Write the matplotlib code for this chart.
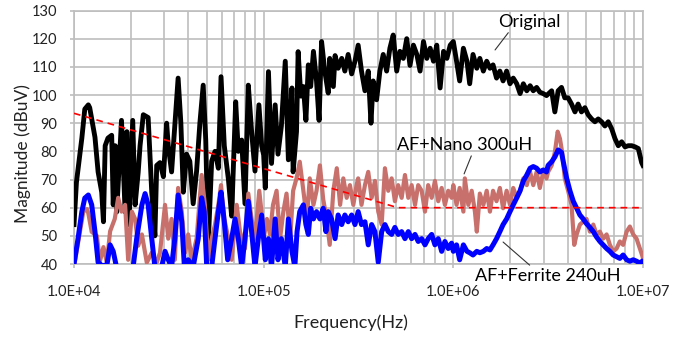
import matplotlib
matplotlib.use("Agg")
import matplotlib.pyplot as plt
from matplotlib.ticker import FixedLocator, LogLocator, NullFormatter

plt.rcParams["font.family"] = ["Lato", "DejaVu Sans"]

# ---- data (frequency in Hz, level in dBuV) ----
orig_f = [1.00e4, 1.03e4, 1.10e4, 1.14e4, 1.19e4, 1.21e4, 1.29e4, 1.34e4, 1.40e4, 1.43e4,
          1.46e4, 1.51e4, 1.58e4, 1.61e4, 1.65e4, 1.68e4, 1.78e4, 1.86e4, 1.90e4, 1.95e4,
          2.04e4, 2.10e4, 2.18e4, 2.23e4, 2.32e4, 2.46e4, 2.57e4, 2.67e4, 2.73e4, 2.84e4,
          2.96e4, 3.08e4, 3.14e4, 3.27e4, 3.40e4, 3.54e4, 3.66e4, 3.77e4, 3.92e4, 4.08e4,
          4.25e4, 4.43e4, 4.61e4, 4.80e4, 4.95e4, 5.10e4, 5.32e4, 5.54e4, 5.77e4, 5.96e4,
          6.20e4, 6.52e4, 6.78e4, 7.12e4, 7.35e4, 7.66e4, 7.97e4, 8.30e4, 8.64e4, 9.00e4,
          9.44e4, 9.76e4,
          1.00e5, 1.02e5, 1.06e5, 1.10e5, 1.15e5, 1.19e5, 1.24e5, 1.30e5, 1.35e5, 1.41e5,
          1.43e5, 1.49e5, 1.52e5, 1.57e5, 1.62e5, 1.67e5, 1.72e5, 1.77e5, 1.83e5, 1.90e5,
          1.96e5, 2.02e5, 2.10e5, 2.19e5, 2.23e5, 2.33e5, 2.38e5, 2.47e5, 2.58e5, 2.68e5,
          2.79e5, 2.91e5, 3.03e5, 3.15e5, 3.28e5, 3.42e5, 3.56e5, 3.68e5, 3.78e5, 3.94e5,
          4.10e5, 4.27e5, 4.45e5, 4.63e5, 4.82e5, 5.03e5, 5.23e5, 5.45e5, 5.68e5, 5.91e5,
          6.16e5, 6.42e5, 6.68e5, 6.96e5, 7.25e5, 7.55e5, 7.86e5, 8.18e5, 8.52e5, 8.88e5,
          9.25e5, 9.63e5,
          1.00e6, 1.04e6, 1.08e6, 1.13e6, 1.18e6, 1.22e6, 1.27e6, 1.33e6, 1.38e6, 1.44e6,
          1.50e6, 1.56e6, 1.62e6, 1.69e6, 1.76e6, 1.83e6, 1.91e6, 1.99e6, 2.07e6, 2.16e6,
          2.25e6, 2.34e6, 2.44e6, 2.54e6, 2.64e6, 2.75e6, 2.86e6, 2.98e6, 3.10e6, 3.30e6,
          3.43e6, 3.57e6, 3.72e6, 3.87e6, 4.03e6, 4.20e6, 4.38e6, 4.55e6, 4.74e6, 4.94e6,
          5.14e6, 5.36e6, 5.58e6, 5.81e6, 6.05e6, 6.30e6, 6.56e6, 6.84e6, 7.12e6, 7.41e6,
          7.72e6, 8.04e6, 8.37e6, 8.72e6, 9.08e6, 9.45e6, 9.84e6, 1.00e7]
orig_db = [54, 69, 84.7, 95, 96.5, 95.5, 85, 72.7, 65.5, 55,
           82, 84.7, 85.7, 61, 82, 58.5, 91, 58.5, 87, 54,
           91, 61, 72.6, 82, 93, 92, 65.5, 50, 75, 76,
           71, 90, 82, 72.7, 89, 106, 90, 65.5, 79, 76.5,
           61.4, 73, 90, 103.5, 84, 46.8, 76.5, 80, 74, 106.5,
           82, 70, 57, 97.6, 80, 84, 61.4, 103.5, 87, 73,
           96.5, 82,
           78.7, 67, 108.3, 75.7, 96.5, 79, 89, 112, 77, 102.5,
           72.7, 87, 115.4, 99.6, 103, 91, 110.7, 103, 115.5, 105,
           91, 119, 108.5, 100.7, 113, 103, 114, 109.5, 113, 108.5,
           114.4, 107.5, 112, 117.7, 108.5, 101.5, 108.5, 90, 105, 98.3,
           108.5, 114.4, 108.5, 116.6, 121.3, 108.5, 115.5, 113, 120, 110.5,
           117.7, 114.4, 108.5, 119, 113, 116.6, 112, 117.7, 102.5, 115.5,
           113, 117.7,
           119, 112, 105, 116.6, 112, 104, 114.4, 109.5, 113, 108.5,
           112, 109.5, 110.7, 106, 108.5, 105, 108.5, 104, 106, 104,
           100.5, 104, 101.5, 103.3, 101.5, 102.7, 101, 100.5, 99.8, 101.5,
           94, 101.5, 102.7, 99, 99, 96.8, 94, 96.8, 94, 95.5,
           93, 91.5, 90.5, 91.5, 90.5, 89, 90.5, 88, 84.5, 82,
           83.4, 81.6, 82, 82, 81.6, 81, 76, 75]

nano_f = [1.01e4, 1.12e4, 1.17e4, 1.19e4, 1.24e4, 1.32e4, 1.37e4, 1.43e4, 1.49e4, 1.55e4,
          1.64e4, 1.71e4, 1.78e4, 1.86e4, 1.93e4, 2.02e4, 2.10e4, 2.18e4, 2.28e4, 2.42e4,
          2.57e4, 2.73e4, 2.84e4, 3.02e4, 3.14e4, 3.27e4, 3.40e4, 3.54e4, 3.70e4, 3.85e4,
          4.00e4, 4.17e4, 4.43e4, 4.71e4, 4.90e4, 5.10e4, 5.32e4, 5.54e4, 5.77e4, 5.96e4,
          6.20e4, 6.52e4, 6.78e4, 7.21e4, 7.50e4, 7.97e4, 8.30e4, 8.64e4, 9.00e4, 9.48e4,
          9.83e4,
          1.00e5, 1.04e5, 1.08e5, 1.12e5, 1.17e5, 1.22e5, 1.27e5, 1.32e5, 1.38e5, 1.43e5,
          1.49e5, 1.55e5, 1.62e5, 1.69e5, 1.75e5, 1.83e5, 1.90e5, 1.98e5, 2.06e5, 2.15e5,
          2.23e5, 2.33e5, 2.43e5, 2.53e5, 2.63e5, 2.74e5, 2.85e5, 2.97e5, 3.09e5, 3.15e5,
          3.28e5, 3.42e5, 3.56e5, 3.71e5, 3.86e5, 4.02e5, 4.19e5, 4.36e5, 4.54e5, 4.73e5,
          4.92e5, 5.12e5, 5.34e5, 5.56e5, 5.79e5, 6.03e5, 6.28e5, 6.53e5, 6.81e5, 7.09e5,
          7.37e5, 7.69e5, 8.00e5, 8.33e5, 8.68e5, 9.03e5, 9.40e5, 9.79e5,
          1.00e6, 1.04e6, 1.08e6, 1.13e6, 1.15e6, 1.20e6, 1.25e6, 1.30e6, 1.33e6, 1.38e6,
          1.44e6, 1.50e6, 1.56e6, 1.62e6, 1.69e6, 1.76e6, 1.83e6, 1.91e6, 1.99e6, 2.07e6,
          2.16e6, 2.25e6, 2.34e6, 2.44e6, 2.54e6, 2.64e6, 2.75e6, 2.86e6, 2.98e6, 3.10e6,
          3.16e6, 3.30e6, 3.43e6, 3.55e6, 3.65e6, 3.75e6, 3.87e6, 4.03e6, 4.20e6, 4.34e6,
          4.47e6, 4.65e6, 4.84e6, 5.04e6, 5.25e6, 5.47e6, 5.69e6, 5.93e6, 6.17e6, 6.43e6,
          6.69e6, 6.97e6, 7.26e6, 7.55e6, 7.86e6, 8.20e6, 8.53e6, 8.88e6, 9.25e6, 9.63e6,
          9.91e6, 1.00e7]
nano_db = [40.7, 58.6, 59.5, 58, 51.4, 50, 41, 46, 40.5, 51.6,
           56, 63.5, 58.6, 61, 41.5, 58.6, 56, 46.5, 50.5, 40.5,
           44, 40.5, 44, 61, 49, 56, 41.5, 67, 58.6, 44,
           50.5, 41.5, 49, 71.6, 61, 41.5, 49, 54, 61, 68,
           56, 49, 41.5, 61, 51.5, 45.5, 65, 56, 49, 66,
           56,
           49, 56, 50.5, 61, 66, 49, 58.6, 65, 49, 66,
           70.4, 76.3, 66, 56, 70.4, 61, 66, 75, 63, 56,
           46.8, 66, 74, 61, 70.4, 63.5, 68, 61, 68, 70.4,
           61, 68, 72.7, 63.5, 69.5, 58.6, 54, 74, 66, 70.4,
           62.3, 68, 63.5, 71.6, 63.5, 68, 61, 68, 66, 58.6,
           68, 63.5, 69.5, 62.3, 67, 61, 66, 63.5,
           68, 61, 67, 58.6, 70.4, 61, 66, 58.6, 51.5, 65,
           61, 66, 58.6, 66, 62.3, 67, 59.8, 66, 61, 67,
           63.5, 66, 70.4, 68, 72.7, 68, 72.7, 67, 72.7, 70.4,
           72.7, 75, 79.6, 87, 84.5, 79.6, 70.4, 66, 61, 46.8,
           50.5, 54, 55, 56, 51.5, 54, 50.5, 51.5, 49, 50.5,
           46.8, 44.5, 45.5, 48, 46.8, 51.5, 53.3, 50.5, 49, 45.5,
           43, 42]

ferr_f = [1.00e4, 1.05e4, 1.10e4, 1.14e4, 1.19e4, 1.24e4, 1.29e4, 1.34e4, 1.40e4, 1.49e4,
          1.55e4, 1.61e4, 1.68e4, 1.90e4, 2.05e4, 2.14e4, 2.28e4, 2.37e4, 2.46e4, 2.57e4,
          2.67e4, 2.90e4, 3.02e4, 3.14e4, 3.27e4, 3.40e4, 3.54e4, 3.70e4, 3.82e4, 4.00e4,
          4.25e4, 4.52e4, 4.71e4, 4.86e4, 5.01e4, 5.32e4, 5.54e4, 5.77e4, 5.96e4, 6.20e4,
          6.46e4, 6.78e4, 7.06e4, 7.35e4, 7.66e4, 7.97e4, 8.30e4, 8.64e4, 9.00e4, 9.37e4,
          9.76e4,
          1.02e5, 1.06e5, 1.10e5, 1.15e5, 1.19e5, 1.24e5, 1.30e5, 1.35e5, 1.41e5, 1.46e5,
          1.50e5, 1.55e5, 1.62e5, 1.67e5, 1.72e5, 1.77e5, 1.83e5, 1.90e5, 1.98e5, 2.06e5,
          2.13e5, 2.19e5, 2.28e5, 2.38e5, 2.47e5, 2.58e5, 2.68e5, 2.79e5, 2.91e5, 3.03e5,
          3.15e5, 3.28e5, 3.42e5, 3.56e5, 3.71e5, 3.86e5, 4.02e5, 4.19e5, 4.36e5, 4.54e5,
          4.73e5, 4.92e5, 5.12e5, 5.34e5, 5.56e5, 5.79e5, 6.03e5, 6.28e5, 6.53e5, 6.81e5,
          7.09e5, 7.37e5, 7.69e5, 8.00e5, 8.33e5, 8.68e5, 9.03e5, 9.40e5, 9.79e5,
          1.00e6, 1.04e6, 1.08e6, 1.13e6, 1.18e6, 1.22e6, 1.27e6, 1.33e6, 1.38e6, 1.44e6,
          1.50e6, 1.56e6, 1.62e6, 1.69e6, 1.76e6, 1.83e6, 1.91e6, 1.99e6, 2.07e6, 2.16e6,
          2.25e6, 2.34e6, 2.44e6, 2.54e6, 2.64e6, 2.75e6, 2.86e6, 2.98e6, 3.10e6, 3.16e6,
          3.30e6, 3.43e6, 3.57e6, 3.72e6, 3.80e6, 3.96e6, 4.12e6, 4.29e6, 4.47e6, 4.65e6,
          4.84e6, 5.04e6, 5.25e6, 5.47e6, 5.69e6, 5.93e6, 6.17e6, 6.43e6, 6.69e6, 6.97e6,
          7.26e6, 7.55e6, 7.86e6, 8.20e6, 8.53e6, 8.88e6, 9.25e6, 9.63e6, 9.91e6, 1.00e7]
ferr_db = [40, 49, 58.6, 63.4, 64.5, 61, 51.5, 40.6, 39.5, 39.5,
           46.8, 44.5, 38.5, 38, 39, 49, 61, 65, 61, 49,
           39, 39, 44.5, 41.5, 39, 49, 64.5, 55, 39, 41.5,
           39, 49, 63.5, 58.6, 39, 39, 49, 58.6, 65.5, 55,
           41.5, 49, 56, 49, 39, 49, 62.3, 51.5, 39, 49,
           57.4,
           41.5, 49, 39, 56, 41.5, 49, 39, 56, 44.5, 39,
           51.5, 58.6, 61, 54, 50.5, 59.8, 56, 58.6, 56, 59.8,
           51.5, 58.6, 56, 49, 57.4, 54, 57.4, 55, 57.4, 54,
           58.6, 54, 55, 46.8, 54, 51.5, 40.6, 51.5, 54, 51.5,
           50.5, 53, 50.5, 51.5, 49, 51.5, 49, 50.5, 48, 49,
           46.8, 49, 50.5, 46.8, 49, 44.5, 48, 45.5, 47.4,
           44.5, 46.8, 41.5, 46.8, 44.5, 44, 43.2, 44.5, 44, 44.5,
           45.5, 45, 46.8, 49, 51.5, 54, 56, 58.6, 61, 63.5,
           66, 69.5, 71.6, 74, 74.6, 74, 72.7, 73.4, 72.7, 75,
           76.3, 78, 80.5, 79.6, 76.3, 70.4, 66, 62.3, 59.8, 57.4,
           56, 54.3, 53, 51.5, 49.6, 48, 46.8, 45.5, 44.5, 43.2,
           42.6, 42, 43.2, 41.5, 41, 41.5, 41, 40.3, 41, 41]

limit_f = [1.0e4, 5.1e5, 1.0e7]
limit_db = [93.5, 60, 60]

x_ticks = [1e4, 1e5, 1e6, 1e7]
x_labels = ["1.0E+04", "1.0E+05", "1.0E+06", "1.0E+07"]
y_ticks = [40, 50, 60, 70, 80, 90, 100, 110, 120, 130]

grid_col = "#BEBEBE"
text_col = "#222222"

fig = plt.figure(figsize=(6.89, 3.37), dpi=100)
ax = fig.add_axes([0.1074, 0.2166, 0.8258, 0.7522])

ax.plot(orig_f, orig_db, color="black", lw=3.5, solid_joinstyle="round", zorder=3)
ax.plot(nano_f, nano_db, color="#C8706B", lw=3.0, solid_joinstyle="round", zorder=4)
ax.plot(ferr_f, ferr_db, color="#0000FF", lw=3.6, solid_joinstyle="round", zorder=5)
ax.plot(limit_f, limit_db, color="#FF0000", lw=1.2, ls=(0, (4, 3)), zorder=6)

ax.set_xscale("log")
ax.set_xlim(1e4, 1e7)
ax.set_ylim(40, 130)

ax.xaxis.set_major_locator(FixedLocator(x_ticks))
ax.set_xticklabels(x_labels)
ax.xaxis.set_minor_locator(LogLocator(base=10, subs=range(2, 10)))
ax.xaxis.set_minor_formatter(NullFormatter())
ax.set_yticks(y_ticks)

ax.grid(True, which="both", color=grid_col, lw=1.2, zorder=0)
ax.set_axisbelow(True)
for s in ax.spines.values():
    s.set_color(grid_col)
    s.set_linewidth(1.2)
ax.tick_params(axis="both", which="major", color=grid_col, length=3, width=1.2,
               labelsize=10.5, labelcolor=text_col)
ax.tick_params(axis="x", which="major", pad=12)
ax.tick_params(axis="y", which="major", pad=9)
ax.tick_params(axis="x", which="minor", length=0)

ax.set_xlabel("Frequency(Hz)", fontsize=13, color=text_col, va="center")
ax.xaxis.set_label_coords(0.487, -0.233)
ax.set_ylabel("Magnitude (dBuV)", fontsize=12.5, color=text_col, va="center")
ax.yaxis.set_label_coords(-0.091, 0.434)

line_kw = dict(arrowstyle="-", color="#333333", lw=0.8, shrinkA=0, shrinkB=0)
ax.annotate("Original", xy=(1.66e6, 116), xytext=(0.80, 0.955),
            textcoords="axes fraction", ha="center", va="center", fontsize=13,
            arrowprops=dict(relpos=(0.2, 0.0), **line_kw))
ax.annotate("AF+Nano 300uH", xy=(1.14e6, 72), xytext=(0.686, 0.469),
            textcoords="axes fraction", ha="center", va="center", fontsize=13,
            arrowprops=dict(relpos=(0.56, 0.0), **line_kw))
ax.annotate("AF+Ferrite 240uH", xy=(1.83e6, 47.8), xytext=(0.832, -0.047),
            textcoords="axes fraction", ha="center", va="center", fontsize=13,
            annotation_clip=False,
            arrowprops=dict(relpos=(0.4, 1.0), **line_kw))

fig.savefig("out.png", dpi=100)
